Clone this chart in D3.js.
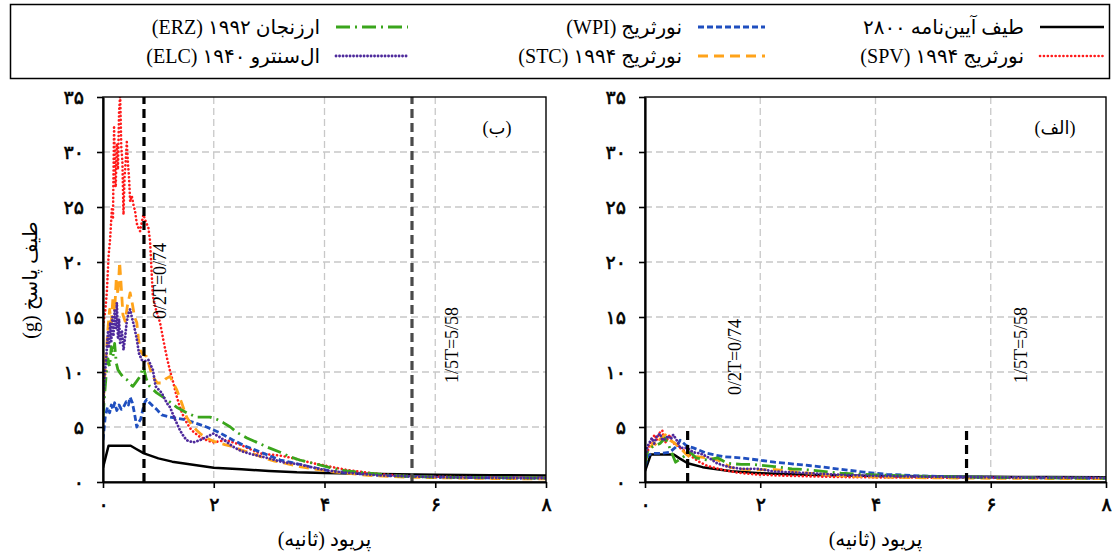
<!DOCTYPE html>
<html>
<head>
<meta charset="utf-8">
<script src="https://cdn.jsdelivr.net/npm/d3@7"></script>
<style>
  body { margin: 0; background: #fff; }
  svg text { font-family: "Liberation Serif", "DejaVu Sans", serif; fill: #000; }
</style>
</head>
<body>
<svg id="chart" width="1113" height="558"></svg>
<script>
// ---- data: response spectra, [period (s), Sa (g)] ----
const seriesNames = ["code", "spv", "wpi", "stc", "erz", "elc"];
const seriesLabels = [
  "طیف آیین‌نامه ۲۸۰۰",
  "نورثریج ۱۹۹۴ (SPV)",
  "نورثریج (WPI)",
  "نورثریج ۱۹۹۴ (STC)",
  "ارزنجان ۱۹۹۲ (ERZ)",
  "ال‌سنترو ۱۹۴۰ (ELC)"
];

// panel (ب)
const leftCode = [[0,1.3],[0.1,3.3],[0.5,3.3],[0.6,3.0],[0.74,2.6],[1.0,2.15],[1.25,1.85],[1.5,1.65],[2.0,1.3],[2.5,1.15],[3.0,1.0],[3.5,0.88],[4.0,0.82],[5.0,0.72],[6.0,0.66],[7.0,0.62],[8.0,0.6]];
const leftSPV = [[0,14.2],[0.04,15.5],[0.07,17.3],[0.1,20.5],[0.13,22.2],[0.16,24.8],[0.18,23.9],[0.2,32.4],[0.22,27.5],[0.23,26.8],[0.25,30.8],[0.27,28.4],[0.29,33.6],[0.31,35.2],[0.33,30.5],[0.35,29.2],[0.37,24.3],[0.39,27.8],[0.41,29.2],[0.43,30.9],[0.45,29.0],[0.47,27.7],[0.49,25.5],[0.52,26.0],[0.55,25.2],[0.58,24.6],[0.61,23.5],[0.64,23.1],[0.67,22.8],[0.7,23.6],[0.73,24.3],[0.77,23.7],[0.82,23.1],[0.85,21.9],[0.9,16.9],[0.96,15.6],[1.03,14.5],[1.09,12.9],[1.15,11.4],[1.21,10.1],[1.27,9.0],[1.33,7.8],[1.39,6.8],[1.45,6.0],[1.51,5.4],[1.6,4.7],[1.75,4.1],[1.87,3.8],[1.99,3.6],[2.1,3.7],[2.23,3.8],[2.35,3.6],[2.47,3.4],[2.65,3.0],[2.83,2.6],[3.0,2.5],[3.2,2.4],[3.4,2.2],[3.55,2.0],[3.8,1.7],[4.1,1.4],[4.4,1.1],[4.7,0.9],[5.0,0.72],[5.3,0.6],[5.6,0.52],[6.0,0.48],[6.5,0.45],[7.0,0.42],[7.5,0.4],[8.0,0.38]];
const leftWPI = [[0,3.8],[0.04,5.9],[0.08,6.8],[0.12,6.3],[0.15,7.0],[0.18,6.6],[0.21,7.2],[0.25,6.5],[0.29,7.0],[0.33,6.6],[0.37,6.8],[0.42,7.3],[0.46,7.0],[0.49,7.7],[0.53,7.2],[0.57,6.2],[0.61,5.0],[0.64,5.4],[0.68,5.7],[0.72,6.6],[0.76,7.3],[0.79,7.5],[0.84,7.2],[0.9,6.9],[0.97,6.6],[1.06,6.1],[1.21,5.9],[1.45,5.7],[1.65,5.4],[1.87,5.0],[2.1,4.5],[2.35,3.8],[2.6,3.2],[2.9,2.6],[3.2,2.0],[3.55,1.6],[3.8,1.3],[4.1,1.0],[4.5,0.8],[5.0,0.6],[5.6,0.5],[6.0,0.45],[6.5,0.4],[7.0,0.38],[7.5,0.36],[8.0,0.34]];
const leftSTC = [[0,6.5],[0.03,9.5],[0.06,11.8],[0.09,14.0],[0.12,15.7],[0.15,14.5],[0.18,16.8],[0.21,15.5],[0.24,18.5],[0.27,17.0],[0.3,20.0],[0.33,17.7],[0.36,15.2],[0.4,14.6],[0.44,16.0],[0.49,17.2],[0.53,16.2],[0.57,15.0],[0.61,14.5],[0.64,13.0],[0.67,12.0],[0.72,11.6],[0.79,11.4],[0.85,10.3],[0.9,9.6],[0.98,9.0],[1.06,9.0],[1.14,9.4],[1.21,9.6],[1.27,9.0],[1.33,8.4],[1.42,7.2],[1.51,5.9],[1.6,5.2],[1.69,4.7],[1.78,4.3],[1.87,4.0],[2.0,3.7],[2.2,3.4],[2.35,3.2],[2.5,2.9],[2.7,2.6],[2.9,2.2],[3.1,1.9],[3.3,1.7],[3.55,1.4],[3.8,1.2],[4.1,0.95],[4.4,0.8],[4.8,0.6],[5.2,0.5],[5.6,0.42],[6.0,0.4],[6.5,0.35],[7.0,0.32],[7.5,0.3],[8.0,0.28]];
const leftERZ = [[0,5.9],[0.03,8.0],[0.06,9.9],[0.09,11.2],[0.12,10.5],[0.15,12.3],[0.18,11.4],[0.21,12.6],[0.24,10.8],[0.27,10.2],[0.31,9.9],[0.37,9.5],[0.43,9.3],[0.49,8.9],[0.54,8.7],[0.6,9.1],[0.67,9.6],[0.73,10.5],[0.78,9.4],[0.84,8.7],[0.97,8.1],[1.15,7.5],[1.33,6.8],[1.51,6.3],[1.69,5.9],[1.8,5.9],[1.93,5.9],[2.05,5.7],[2.17,5.4],[2.3,5.0],[2.42,4.5],[2.6,4.0],[2.78,3.6],[3.0,3.1],[3.2,2.7],[3.37,2.3],[3.55,2.0],[3.8,1.7],[4.1,1.3],[4.4,1.0],[4.8,0.8],[5.2,0.6],[5.6,0.5],[6.0,0.45],[6.5,0.42],[7.0,0.4],[7.5,0.38],[8.0,0.36]];
const leftELC = [[0,6.6],[0.03,9.5],[0.06,11.4],[0.09,13.6],[0.11,12.2],[0.13,14.5],[0.15,12.8],[0.17,15.0],[0.19,13.4],[0.21,15.6],[0.23,14.0],[0.25,16.3],[0.27,13.0],[0.29,14.8],[0.31,12.5],[0.34,13.8],[0.37,12.0],[0.4,13.2],[0.43,14.6],[0.46,15.3],[0.49,15.7],[0.52,15.0],[0.56,14.2],[0.61,13.0],[0.65,11.7],[0.7,11.1],[0.76,11.0],[0.82,11.1],[0.9,10.2],[0.95,8.7],[1.06,8.1],[1.15,7.2],[1.21,6.8],[1.3,5.7],[1.39,4.7],[1.45,4.2],[1.51,3.8],[1.63,3.6],[1.75,3.8],[1.87,4.1],[1.99,4.4],[2.1,4.1],[2.22,3.7],[2.35,3.2],[2.5,2.8],[2.7,2.5],[2.96,2.2],[3.25,1.8],[3.55,1.6],[3.8,1.3],[4.1,1.0],[4.5,0.8],[5.0,0.6],[5.6,0.5],[6.0,0.45],[6.5,0.4],[7.0,0.38],[7.5,0.36],[8.0,0.34]];

// panel (الف)
const rightCode = [[0,1.0],[0.1,2.5],[0.5,2.5],[0.6,2.15],[0.74,1.7],[1.0,1.35],[1.25,1.15],[1.5,0.98],[2.0,0.8],[2.5,0.7],[3.0,0.63],[4.0,0.55],[5.0,0.5],[6.0,0.47],[7.0,0.45],[8.0,0.43]];
const rightSPV = [[0,1.5],[0.04,2.6],[0.08,3.4],[0.12,3.9],[0.17,4.3],[0.2,3.8],[0.24,4.4],[0.3,4.7],[0.33,3.9],[0.36,3.6],[0.4,4.0],[0.43,4.3],[0.47,3.6],[0.54,3.4],[0.61,3.1],[0.72,2.7],[0.84,2.2],[0.95,1.8],[1.07,1.5],[1.2,1.3],[1.36,1.1],[1.6,0.85],[1.9,0.7],[2.25,0.6],[2.8,0.52],[3.4,0.45],[4.0,0.42],[5.0,0.4],[6.0,0.38],[7.0,0.36],[8.0,0.35]];
const rightWPI = [[0,1.4],[0.05,2.4],[0.12,2.6],[0.26,2.6],[0.43,2.7],[0.56,3.3],[0.61,3.8],[0.72,3.3],[0.84,3.1],[1.08,2.6],[1.36,2.3],[1.66,2.2],[1.96,2.0],[2.25,1.8],[2.55,1.65],[2.84,1.5],[3.1,1.35],[3.4,1.15],[3.8,0.9],[4.2,0.7],[4.8,0.55],[5.5,0.45],[6.5,0.4],[7.5,0.35],[8.0,0.33]];
const rightSTC = [[0,1.8],[0.04,2.8],[0.09,3.1],[0.15,3.6],[0.2,3.3],[0.26,3.9],[0.35,4.3],[0.43,3.8],[0.5,3.6],[0.61,3.1],[0.7,2.6],[0.79,2.2],[0.9,2.3],[1.08,2.2],[1.26,2.0],[1.36,1.7],[1.5,1.3],[1.7,1.15],[1.96,1.1],[2.2,1.15],[2.5,1.0],[2.84,0.8],[3.4,0.55],[4.0,0.45],[5.0,0.38],[6.0,0.34],[7.0,0.32],[8.0,0.3]];
const rightERZ = [[0,1.6],[0.04,2.7],[0.09,3.1],[0.17,3.3],[0.26,3.5],[0.35,4.0],[0.43,3.1],[0.53,1.8],[0.64,2.2],[0.79,2.7],[0.88,2.2],[1.08,2.0],[1.26,2.2],[1.43,1.7],[1.67,1.6],[1.85,1.6],[2.25,1.4],[2.55,1.2],[2.83,1.1],[3.4,0.8],[4.0,0.65],[4.5,0.55],[5.0,0.5],[6.0,0.42],[7.0,0.38],[8.0,0.35]];
const rightELC = [[0,1.8],[0.04,3.2],[0.08,3.6],[0.12,4.0],[0.16,3.5],[0.2,4.1],[0.26,4.4],[0.3,3.8],[0.35,3.9],[0.4,4.2],[0.45,3.9],[0.49,4.3],[0.55,3.8],[0.61,3.1],[0.73,3.1],[0.84,2.7],[0.96,2.6],[1.08,2.3],[1.25,1.7],[1.43,1.4],[1.66,1.2],[1.96,1.2],[2.25,0.95],[2.83,0.8],[3.4,0.65],[4.0,0.55],[5.0,0.48],[6.0,0.42],[7.0,0.4],[8.0,0.38]];

// period markers 0.2T and 1.5T
const markerPeriods = [0.74, 5.58];
const markerLabels = ["0/2T=0/74", "1/5T=5/58"];

// axes
const xTicks = [0, 2, 4, 6, 8];
const xTickLabels = ["۰", "۲", "۴", "۶", "۸"];
const yTicks = [0, 5, 10, 15, 20, 25, 30, 35];
const yTickLabels = ["۰", "۵", "۱۰", "۱۵", "۲۰", "۲۵", "۳۰", "۳۵"];
const xTitle = "پریود (ثانیه)";
const yTitle = "طیف پاسخ (g)";
const panelTags = ["(ب)", "(الف)"];

// ---- styles ----
const styles = {
  code: { color: "#000000", width: 2.5, dash: null, cap: "butt" },
  spv:  { color: "#ff1a1a", width: 2.6, dash: "0.1,3.8", cap: "round" },
  wpi:  { color: "#1f4fbf", width: 2.8, dash: "6,3", cap: "butt" },
  stc:  { color: "#ffa31a", width: 2.8, dash: "10,6", cap: "butt" },
  erz:  { color: "#3aa51c", width: 2.8, dash: "14,5,2,5", cap: "butt" },
  elc:  { color: "#4e2a9c", width: 2.8, dash: "0.1,3.4", cap: "round" }
};
const arabicFont = "'DejaVu Sans', sans-serif";

const svg = d3.select("#chart");

const panels = [
  { x0: 103, x1: 546, tag: panelTags[0], tagX: 497, data: [leftCode, leftSPV, leftWPI, leftSTC, leftERZ, leftELC],
    markerTop: 35, markerColors: ["#000", "#4a4a4a"], labelY: [281, 345], showYTitle: true },
  { x0: 645, x1: 1106, tag: panelTags[1], tagX: 1055, data: [rightCode, rightSPV, rightWPI, rightSTC, rightERZ, rightELC],
    markerTop: 5, markerColors: ["#000", "#000"], labelY: [357, 345], showYTitle: false }
];

const yTop = 97, yBot = 482;

panels.forEach((p, pi) => {
  const x = d3.scaleLinear().domain([0, 8]).range([p.x0, p.x1]);
  const y = d3.scaleLinear().domain([0, 35]).range([yBot, yTop]);
  const g = svg.append("g");

  const clipId = "clip" + pi;
  svg.append("clipPath").attr("id", clipId)
    .append("rect").attr("x", p.x0).attr("y", yTop).attr("width", p.x1 - p.x0).attr("height", yBot - yTop);

  // grid
  g.append("g").selectAll("line").data(yTicks.filter(d => d > 0 && d < 35)).join("line")
    .attr("x1", p.x0).attr("x2", p.x1).attr("y1", d => y(d)).attr("y2", d => y(d))
    .attr("stroke", "#c8c8c8").attr("stroke-width", 1.3).attr("stroke-dasharray", "7,4");
  g.append("g").selectAll("line").data(xTicks.filter(d => d > 0 && d < 8)).join("line")
    .attr("x1", d => x(d)).attr("x2", d => x(d)).attr("y1", yTop).attr("y2", yBot)
    .attr("stroke", "#c8c8c8").attr("stroke-width", 1.3).attr("stroke-dasharray", "7,4");

  // curves
  const line = d3.line().x(d => x(d[0])).y(d => y(d[1]));
  const curves = g.append("g").attr("clip-path", `url(#${clipId})`);
  p.data.forEach((series, si) => {
    const s = styles[seriesNames[si]];
    curves.append("path").datum(series)
      .attr("d", line).attr("fill", "none")
      .attr("stroke", s.color).attr("stroke-width", s.width)
      .attr("stroke-dasharray", s.dash).attr("stroke-linecap", s.cap)
      .attr("stroke-linejoin", "round");
  });

  // period markers
  markerPeriods.forEach((T, mi) => {
    g.append("line")
      .attr("x1", x(T)).attr("x2", x(T)).attr("y1", y(0)).attr("y2", y(p.markerTop))
      .attr("stroke", p.markerColors[mi]).attr("stroke-width", 3.2).attr("stroke-dasharray", "9,5");
  });
  const labelX = [x(markerPeriods[0]) + 16, x(markerPeriods[1]) + 40];
  const labelXR = [x(markerPeriods[0]) + 47, x(markerPeriods[1]) + 54];
  markerLabels.forEach((t, mi) => {
    const lx = pi === 0 ? labelX[mi] : labelXR[mi];
    g.append("text").attr("transform", `translate(${lx},${p.labelY[mi]}) rotate(-90)`)
      .attr("text-anchor", "middle").attr("dominant-baseline", "central")
      .attr("font-size", 18).text(t);
  });

  // frame
  g.append("rect").attr("x", p.x0).attr("y", yTop).attr("width", p.x1 - p.x0).attr("height", yBot - yTop)
    .attr("fill", "none").attr("stroke", "#000").attr("stroke-width", 1.4);

  // axes
  const ya = g.append("g").attr("transform", `translate(${p.x0},0)`)
    .call(d3.axisLeft(y).tickValues(yTicks).tickFormat((d, i) => yTickLabels[i]).tickSize(6).tickPadding(13).tickSizeOuter(0));
  ya.select(".domain").attr("stroke-width", 2.2);
  ya.selectAll(".tick line").attr("stroke-width", 1.6);
  ya.selectAll(".tick text").attr("font-size", 19).attr("font-family", arabicFont)
    .attr("stroke", "#000").attr("stroke-width", 0.6).attr("direction", "rtl").attr("text-anchor", "start");

  const xa = g.append("g").attr("transform", `translate(0,${yBot})`)
    .call(d3.axisBottom(x).tickValues(xTicks).tickFormat((d, i) => xTickLabels[i]).tickSize(6).tickPadding(10).tickSizeOuter(0));
  xa.select(".domain").attr("stroke-width", 2.2);
  xa.selectAll(".tick line").attr("stroke-width", 1.6);
  xa.selectAll(".tick text").attr("font-size", 19).attr("font-family", arabicFont)
    .attr("stroke", "#000").attr("stroke-width", 0.6);

  // titles
  g.append("text").attr("x", (p.x0 + p.x1) / 2).attr("y", 546)
    .attr("text-anchor", "middle").attr("font-size", 20).attr("direction", "rtl")
    .attr("font-family", arabicFont).text(xTitle);
  if (p.showYTitle) {
    g.append("text").attr("transform", `translate(30,280) rotate(-90)`)
      .attr("text-anchor", "middle").attr("dominant-baseline", "central")
      .attr("font-size", 20).attr("direction", "rtl")
      .attr("font-family", arabicFont).text(yTitle);
  }
  g.append("text").attr("x", p.tagX).attr("y", 128).attr("text-anchor", "middle")
    .attr("dominant-baseline", "central").attr("font-size", 18).attr("direction", "rtl")
    .attr("font-family", arabicFont).text(p.tag);
});

// ---- legend ----
svg.append("rect").attr("x", 10.5).attr("y", 4.5).attr("width", 1099).attr("height", 74)
  .attr("fill", "#fff").attr("stroke", "#000").attr("stroke-width", 1.5);

const legendCols = [{ sx: 1040, ex: 1104 }, { sx: 698, ex: 765 }, { sx: 336, ex: 408 }];
const legendRows = [27, 56];
seriesNames.forEach((name, i) => {
  const col = legendCols[Math.floor(i / 2)], rowY = legendRows[i % 2];
  const s = styles[name];
  svg.append("line").attr("x1", col.sx).attr("x2", col.ex).attr("y1", rowY).attr("y2", rowY)
    .attr("stroke", s.color).attr("stroke-width", s.width)
    .attr("stroke-dasharray", s.dash).attr("stroke-linecap", s.cap);
  svg.append("text").attr("x", col.sx - 16).attr("y", rowY).attr("dominant-baseline", "central")
    .attr("direction", "rtl").attr("text-anchor", "start").attr("font-size", 20)
    .text(seriesLabels[i]);
});
</script>
</body>
</html>
